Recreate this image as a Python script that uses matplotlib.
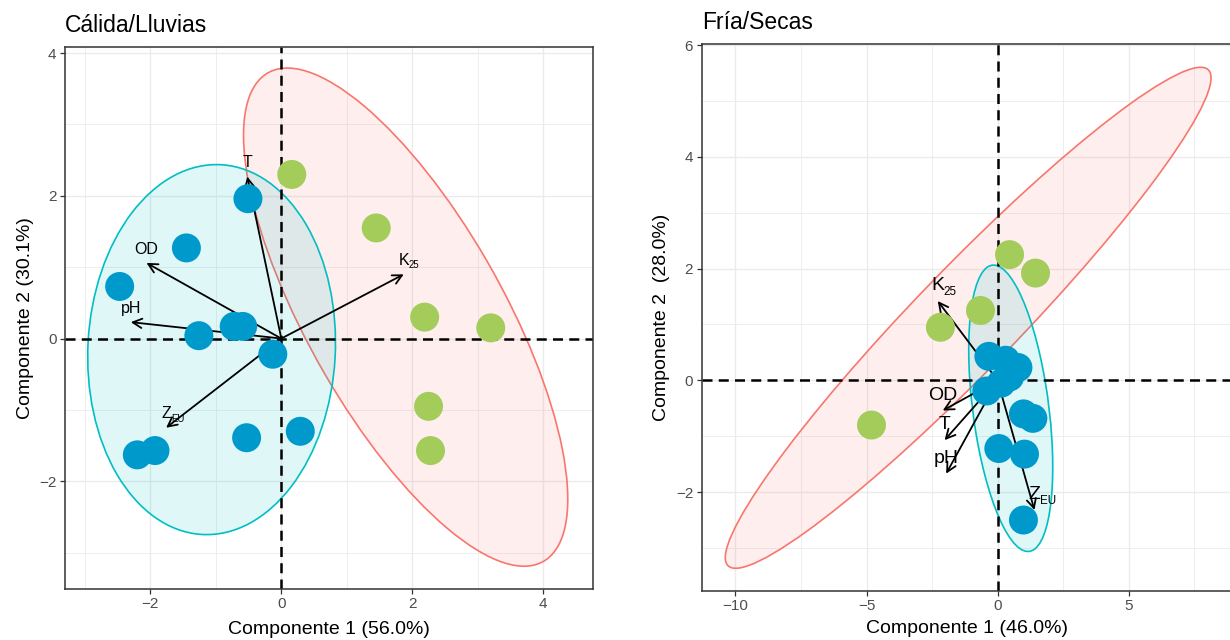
import numpy as np
import matplotlib
matplotlib.use('Agg')
import matplotlib.pyplot as plt
from matplotlib.patches import Ellipse
from matplotlib.ticker import MultipleLocator
from matplotlib.colors import to_rgba

plt.rcParams['font.family'] = ['Liberation Sans', 'DejaVu Sans']

# PCA scores, Cálida/Lluvias
warm_blue_x = [-0.51, -1.45, -2.47, -1.26, -0.72, -0.59, -0.13, 0.29, -0.53, -1.93, -2.20]
warm_blue_y = [1.96, 1.27, 0.73, 0.04, 0.17, 0.17, -0.22, -1.30, -1.39, -1.57, -1.63]
warm_green_x = [0.16, 1.45, 2.19, 3.20, 2.25, 2.28]
warm_green_y = [2.30, 1.55, 0.30, 0.15, -0.95, -1.57]

# PCA scores, Fría/Secas
cold_blue_x = [-0.33, 0.31, 0.78, 0.46, 0.14, -0.41, 0.99, 1.35, 0.05, 1.03, 0.99]
cold_blue_y = [0.43, 0.36, 0.23, 0.06, -0.05, -0.19, -0.60, -0.68, -1.22, -1.32, -2.50]
cold_green_x = [0.46, 1.45, -0.65, -2.18, -4.81]
cold_green_y = [2.25, 1.92, 1.25, 0.95, -0.80]

# variable loadings (arrow tips): name, subscript
var_names = ['T', 'OD', 'pH', 'Z', 'K']
var_subs = ['', '', '', 'EU', '25']
warm_load_x = [-0.52, -2.06, -2.30, -1.76, 1.87]
warm_load_y = [2.27, 1.06, 0.23, -1.25, 0.90]
cold_load_x = [-2.02, -2.09, -1.96, 1.41, -2.28]
cold_load_y = [-1.07, -0.54, -1.67, -2.32, 1.42]

# confidence ellipses: (center x, center y, width, height, angle)
warm_ell_blue = (-1.065, -0.155, 5.19, 3.78, 86.5)
warm_ell_red = (1.90, 0.30, 8.04, 2.94, 122.2)
cold_ell_blue = (0.505, -0.50, 5.36, 2.80, 110.0)
cold_ell_red = (-1.12, 1.12, 20.46, 2.35, 25.2)

BLUE = '#0099CC'
GREEN = '#A3CC5A'
RED_LINE = '#F8766D'
CYAN_LINE = '#00BFC4'


def draw_panel(ax, bx, by, gx, gy, ell_red, ell_blue, lx, ly, lab_size, lab_off):
    for (cx, cy, w, h, ang), col in ((ell_red, RED_LINE), (ell_blue, CYAN_LINE)):
        ax.add_patch(Ellipse((cx, cy), w, h, angle=ang, facecolor=to_rgba(col, 0.12),
                             edgecolor=col, lw=1.2, zorder=1.5))
    ax.axhline(0, color='black', lw=1.8, ls=(0, (4, 2.5)), zorder=2)
    ax.axvline(0, color='black', lw=1.8, ls=(0, (4, 2.5)), zorder=2)

    for x, y in zip(lx, ly):
        ax.annotate('', xy=(x, y), xytext=(0, 0),
                    arrowprops=dict(arrowstyle='->,head_length=0.55,head_width=0.28',
                                    mutation_scale=12, lw=1.3, color='black',
                                    shrinkA=0, shrinkB=0), zorder=3)

    ax.scatter(bx, by, s=435, color=BLUE, edgecolors='none', zorder=4)
    ax.scatter(gx, gy, s=435, color=GREEN, edgecolors='none', zorder=4)

    for name, sub, x, y in zip(var_names, var_subs, lx, ly):
        ax.annotate(name, xy=(x, y), xytext=(0, lab_off), textcoords='offset points',
                    ha='center', va='center', fontsize=lab_size, zorder=5)
        if sub:
            ax.annotate(sub, xy=(x, y), xytext=(0.3 * lab_size, lab_off - 0.3 * lab_size),
                        textcoords='offset points', ha='left', va='center',
                        fontsize=lab_size * 0.6, zorder=5)

    ax.grid(True, which='major', color='#EBEBEB', lw=1.0, zorder=0)
    ax.grid(True, which='minor', color='#EBEBEB', lw=0.6, zorder=0)
    ax.set_axisbelow(True)
    for sp in ax.spines.values():
        sp.set_color('#333333')
        sp.set_linewidth(1.1)
    ax.tick_params(which='major', length=3.6, width=0.9, color='#333333',
                   labelcolor='#4D4D4D', labelsize=11, pad=2.5)
    ax.tick_params(which='minor', length=0)


fig = plt.figure(figsize=(12.3, 6.4), dpi=100)
W, H = 1230, 640

ax1 = fig.add_axes([65 / W, 1 - 589 / H, (593.3 - 65) / W, (589 - 46.7) / H])
draw_panel(ax1, warm_blue_x, warm_blue_y, warm_green_x, warm_green_y,
           warm_ell_red, warm_ell_blue, warm_load_x, warm_load_y, 11.5, 10)
ax1.set_xlim(-3.305, 4.767)
ax1.set_ylim(-3.51, 4.09)
ax1.xaxis.set_major_locator(MultipleLocator(2))
ax1.xaxis.set_minor_locator(MultipleLocator(1))
ax1.yaxis.set_major_locator(MultipleLocator(2))
ax1.yaxis.set_minor_locator(MultipleLocator(1))
ax1.set_title('Cálida/Lluvias', loc='left', fontsize=16.5, pad=10.5)
ax1.set_xlabel('Componente 1 (56.0%)', fontsize=14, labelpad=6.5)
ax1.set_ylabel('Componente 2 (30.1%)', fontsize=14, labelpad=4)

ax2 = fig.add_axes([701.7 / W, 1 - 591 / H, (1232 - 701.7) / W, (591 - 44) / H])
draw_panel(ax2, cold_blue_x, cold_blue_y, cold_green_x, cold_green_y,
           cold_ell_red, cold_ell_blue, cold_load_x, cold_load_y, 14, 11)
ax2.set_xlim(-11.29, 8.95)
ax2.set_ylim(-3.77, 6.02)
ax2.xaxis.set_major_locator(MultipleLocator(5))
ax2.xaxis.set_minor_locator(MultipleLocator(2.5))
ax2.yaxis.set_major_locator(MultipleLocator(2))
ax2.yaxis.set_minor_locator(MultipleLocator(1))
ax2.set_title('Fría/Secas', loc='left', fontsize=16.5, pad=10.5)
ax2.set_xlabel('Componente 1 (46.0%)', fontsize=14, labelpad=5)
ax2.set_ylabel('Componente 2  (28.0%)', fontsize=14, labelpad=4)

fig.savefig('out.png', dpi=100)
